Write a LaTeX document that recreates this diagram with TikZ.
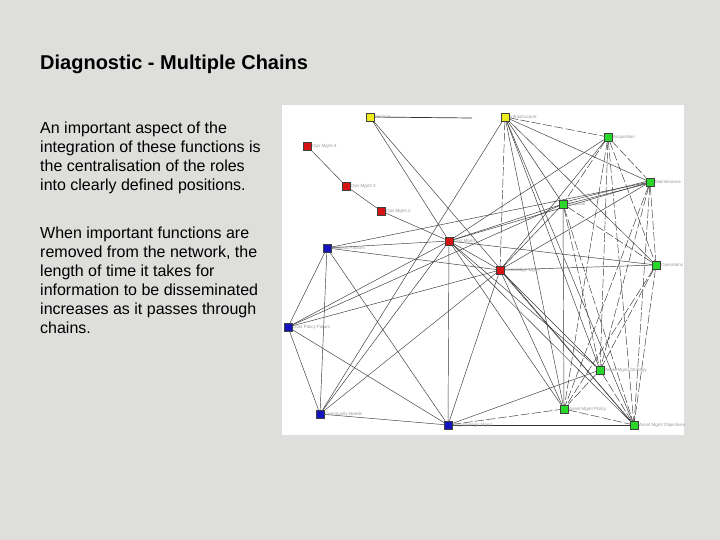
\documentclass[tikz,border=0pt]{standalone}
\usepackage{fontspec}
\setmainfont{Liberation Sans}
\pgfdeclarelayer{bottom}
\pgfdeclarelayer{edges}
\pgfsetlayers{bottom,edges,main}
\definecolor{bgcol}{RGB}{222,222,220}
\definecolor{nred}{RGB}{215,20,20}
\definecolor{nblue}{RGB}{20,20,190}
\definecolor{ngreen}{RGB}{40,215,40}
\definecolor{nyellow}{RGB}{240,235,30}
\definecolor{edgecol}{RGB}{55,55,55}
\begin{document}
\begin{tikzpicture}[x=1pt,y={(0pt,-1pt)},
  sq/.style={draw=black!75, line width=0.4pt, minimum size=8pt, inner sep=0pt},
  lab/.style={font=\fontsize{4.5}{5}\selectfont, text=gray!80, inner sep=0.6pt},
  rn/.style={sq, fill=nred},
  bn/.style={sq, fill=nblue},
  gn/.style={sq, fill=ngreen},
  yn/.style={sq, fill=nyellow},
  ln/.style={draw=edgecol, line width=0.45pt},
  dl/.style={ln, dash pattern=on 9pt off 2.5pt},
  body/.style={font=\fontsize{16}{19}\selectfont, align=left, anchor=north west, inner sep=0pt}]
\useasboundingbox (0,0) rectangle (720,540);
\begin{pgfonlayer}{bottom}
  \fill[bgcol] (0,0) rectangle (720,540);
  \fill[white] (282,105) rectangle (684,435);
\end{pgfonlayer}

\node[font=\bfseries\fontsize{20}{23}\selectfont, anchor=base west, inner sep=0pt] (title) at (40,70) {Diagnostic - Multiple Chains};
\node[body] (p1) at (40,121.5) {An important aspect of the\\integration of these functions is\\the centralisation of the roles\\into clearly defined positions.};
\node[body] (p2) at (40,226.5) {When important functions are\\removed from the network, the\\length of time it takes for\\information to be disseminated\\increases as it passes through\\chains.};

% nodes
\node[yn, label={[lab]right:Federal}] (y1) at (370,117) {};
\node[yn, label={[lab]right:Infrastructure}] (y2) at (505,117) {};
\node[rn, label={[lab]right:Ops Mgmt 4}] (r4) at (307,146) {};
\node[rn, label={[lab]right:Ops Mgmt 3}] (r3) at (346,186) {};
\node[rn, label={[lab]right:Ops Mgmt 2}] (r2) at (381,211) {};
\node[rn, label={[lab]right:Ops Mgmt}] (c1) at (449,241) {};
\node[rn, label={[lab]right:Knowledge Mgmt}] (c2) at (500,270) {};
\node[bn, label={[lab]right:External Factors}] (bf) at (327,248) {};
\node[bn, label={[lab]right:Govt Policy Forum}] (gp) at (288,327) {};
\node[bn, label={[lab]right:Community Needs}] (cn) at (320,414) {};
\node[bn, label={[lab]right:Org Strategic Mgmt}] (st) at (448,425) {};
\node[gn, label={[lab]right:Acquisition}] (acq) at (608,137) {};
\node[gn, label={[lab]right:Maintenance}] (mt) at (650,182) {};
\node[gn, label={[lab]right:Disposal}] (dp) at (563,204) {};
\node[gn, label={[lab]right:Operations}] (op) at (656,265) {};
\node[gn, label={[lab]right:Asset Mgmt Strategy}] (ams) at (600,370) {};
\node[gn, label={[lab]right:Asset Mgmt Policy}] (amp) at (564,409) {};
\node[gn, label={[lab]right:Asset Mgmt Objectives}] (amo) at (634,425) {};
\coordinate (yend) at (472,118);

\begin{pgfonlayer}{edges}
  % chain
  \draw[ln] (r4) -- (r3) -- (r2) -- (c1);
  \draw[draw=black!80, line width=0.7pt] (y1) -- (yend);
  \draw[ln] (y1) -- (c1);
  \draw[ln] (y1) -- (amo);
  % Y2
  \foreach \t in {cn,mt,dp,op,ams,amo,amp} \draw[ln] (y2) -- (\t);
  \draw[dl] (y2) -- (c2);
  \draw[dl] (y2) -- (acq);
  % C1
  \foreach \t in {c2,bf,st,cn,gp,acq,mt,op,dp,ams,amp,amo} \draw[ln] (c1) -- (\t);
  % C2
  \foreach \t in {op,bf,gp,st,cn,ams,amp,amo,mt,dp,acq} \draw[ln] (c2) -- (\t);
  % blue
  \draw[ln] (bf) -- (gp);
  \draw[ln] (bf) -- (cn);
  \draw[ln] (bf) -- (st);
  \draw[ln] (bf) -- (mt);
  \draw[ln] (gp) -- (cn);
  \draw[ln] (gp) -- (st);
  \draw[ln] (gp) -- (dp);
  \draw[ln] (cn) -- (st);
  \draw[draw=black!80, line width=0.7pt] (st) -- (amo);
  \draw[dl] (st) -- (amp);
  \draw[ln] (st) -- (ams);
  % green clique
  \foreach \a/\b in {acq/mt,acq/dp,acq/op,acq/ams,acq/amp,acq/amo,
                     mt/op,mt/ams,mt/amp,mt/amo,
                     dp/op,dp/ams,dp/amo,
                     op/ams,op/amp,op/amo,
                     ams/amp,ams/amo,amp/amo}
    \draw[dl] (\a) -- (\b);
  \draw[ln] (dp) -- (amp);
  \draw[ln] ([yshift=-1pt]mt.center) -- ([yshift=-1pt]dp.center);
  \draw[ln] ([yshift=1.5pt]mt.center) -- ([yshift=1.5pt]dp.center);
\end{pgfonlayer}
\end{tikzpicture}
\end{document}
